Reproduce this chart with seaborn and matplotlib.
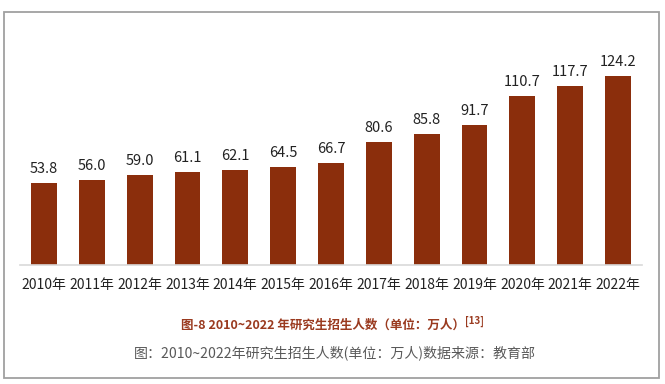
import matplotlib
matplotlib.use("Agg")
import matplotlib.pyplot as plt
import seaborn as sns
import pandas as pd
from matplotlib.patches import Rectangle

years = ["2010年", "2011年", "2012年", "2013年", "2014年", "2015年", "2016年",
         "2017年", "2018年", "2019年", "2020年", "2021年", "2022年"]
values = [53.8, 56.0, 59.0, 61.1, 62.1, 64.5, 66.7, 80.6, 85.8, 91.7, 110.7, 117.7, 124.2]
title_text = "图-8 2010~2022 年研究生招生人数（单位：万人）"
title_ref = "[13]"
caption_text = "图：2010~2022年研究生招生人数(单位：万人)数据来源：教育部"

sns.set_theme(style="white")
plt.rcParams['font.family'] = ['Noto Sans CJK SC', 'DejaVu Sans']

df = pd.DataFrame({"year": years, "value": values})

fig = plt.figure(figsize=(6.65, 3.84), dpi=100)
ax = fig.add_axes([20/665, (384-265)/384, (642-20)/665, (265-40)/384])

bar_color = "#8B2E0C"
sns.barplot(data=df, x="year", y="value", color=bar_color, width=0.54,
            saturation=1, ax=ax, edgecolor="none")
ax.set_ylim(0, (265-40)/1.524)
ax.set_xlim(-0.5, len(years)-0.5)
for c in ax.containers:
    ax.bar_label(c, fmt="%.1f", padding=5, fontsize=10.5, color="#222222")

ax.set_xlabel("")
ax.set_ylabel("")
ax.set_yticks([])
for s in ["top", "right", "left"]:
    ax.spines[s].set_visible(False)
ax.spines["bottom"].set_color("#d9d9d9")
ax.spines["bottom"].set_linewidth(1.2)
ax.tick_params(axis="x", length=0, pad=9, labelsize=10, labelcolor="#222222")

# outer frame
fig.patches.append(Rectangle((4/665, 6/384), 655/665, 366/384, transform=fig.transFigure,
                             fill=False, edgecolor="#a0a0a0", linewidth=1.3))

fig.text(181/665, (384-325)/384, title_text, ha="left", va="center",
         fontsize=9.0, fontweight="bold", color="#9A3A1F")
fig.text(465/665, (384-321)/384, title_ref, ha="left", va="center",
         fontsize=7, fontweight="bold", color="#9A3A1F")
fig.text(335/665, (384-353)/384, caption_text, ha="center", va="center",
         fontsize=10.1, color="#595959")

fig.savefig("out.png", dpi=100, facecolor="white")
